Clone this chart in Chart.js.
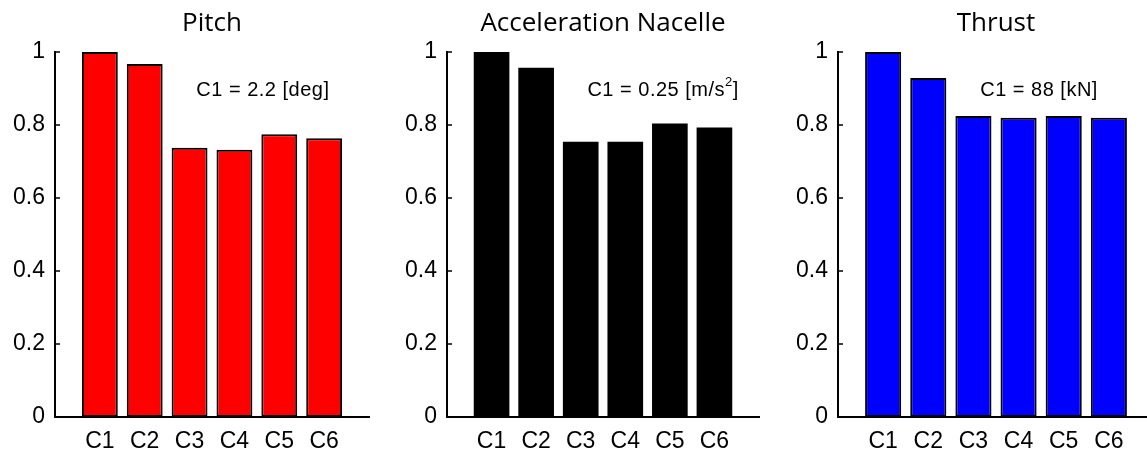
<!DOCTYPE html>
<html>
<head>
<meta charset="utf-8">
<script src="https://cdn.jsdelivr.net/npm/chart.js@4.4.1/dist/chart.umd.min.js"></script>
<style>
  html, body { margin: 0; padding: 0; background: #fff; overflow: hidden; width: 1147px; height: 455px; }
  .panel { position: absolute; top: 0; height: 455px; }
  canvas { display: block; }
</style>
</head>
<body>
<div class="panel" style="left:0px"><canvas id="c0" width="380" height="455"></canvas></div>
<div class="panel" style="left:380px"><canvas id="c1" width="390" height="455"></canvas></div>
<div class="panel" style="left:770px"><canvas id="c2" width="395" height="455"></canvas></div>
<script>
// Normalised responses per controller (C1 = 1)
const categories = ['C1', 'C2', 'C3', 'C4', 'C5', 'C6'];
const pitchValues = [1.0, 0.967, 0.738, 0.732, 0.775, 0.764];
const accelValues = [1.0, 0.957, 0.754, 0.754, 0.804, 0.793];
const thrustValues = [1.0, 0.929, 0.825, 0.820, 0.825, 0.820];
const yTickValues = [0, 0.2, 0.4, 0.6, 0.8, 1];
const panelTitles = ['Pitch', 'Acceleration Nacelle', 'Thrust'];
const referenceNotes = [
  { text: 'C1 = 2.2 [deg]' },
  { text: 'C1 = 0.25 [m/s', sup: '2', tail: ']' },
  { text: 'C1 = 88 [kN]' }
];

const TICK_FONT = '"Liberation Sans", Arial, sans-serif';

// Short tick marks drawn on the inside of the y axis
const inwardTicks = {
  id: 'inwardTicks',
  afterDraw(chart) {
    const { ctx, chartArea, scales } = chart;
    const y = scales.y;
    ctx.save();
    ctx.strokeStyle = '#000';
    ctx.lineWidth = 1.5;
    yTickValues.forEach(v => {
      const py = y.getPixelForValue(v);
      ctx.beginPath();
      ctx.moveTo(chartArea.left, py);
      ctx.lineTo(chartArea.left + 5, py);
      ctx.stroke();
    });
    ctx.restore();
  }
};

// Text note giving the absolute value of the C1 reference
const noteLabel = {
  id: 'noteLabel',
  afterDraw(chart, args, opts) {
    const note = opts.note;
    if (!note) return;
    const { ctx, scales } = chart;
    const px = scales.x.getPixelForValue(opts.x);
    const py = scales.y.getPixelForValue(opts.y);
    ctx.save();
    ctx.fillStyle = '#000';
    ctx.textBaseline = 'middle';
    ctx.textAlign = 'left';
    ctx.font = '20px ' + TICK_FONT;
    ctx.letterSpacing = '0.5px';
    ctx.fillText(note.text, px, py);
    if (note.sup) {
      const w = ctx.measureText(note.text).width;
      ctx.font = '13px ' + TICK_FONT;
      ctx.fillText(note.sup, px + w, py - 8);
      const ws = ctx.measureText(note.sup).width;
      ctx.font = '20px ' + TICK_FONT;
      ctx.fillText(note.tail, px + w + ws, py);
    }
    ctx.restore();
  }
};

const panels = [
  { id: 'c0', values: pitchValues, color: '#ff0000', borderWidth: 2, yAxisWidth: 55, padRight: 7 },
  { id: 'c1', values: accelValues, color: '#000000', borderWidth: 0, yAxisWidth: 67, padRight: 5 },
  { id: 'c2', values: thrustValues, color: '#0000ff', borderWidth: 2, yAxisWidth: 68, padRight: 8 }
];

panels.forEach((p, i) => {
  const labels = [''].concat(categories, ['']);
  const data = [null].concat(p.values, [null]);
  new Chart(document.getElementById(p.id), {
    type: 'bar',
    data: {
      labels: labels,
      datasets: [{
        data: data,
        backgroundColor: p.color,
        borderColor: '#000',
        borderWidth: p.borderWidth,
        borderSkipped: false,
        categoryPercentage: 1.0,
        barPercentage: 0.8
      }]
    },
    options: {
      responsive: false,
      animation: false,
      events: [],
      layout: { padding: { left: 0, right: p.padRight, top: 0, bottom: 0 } },
      plugins: {
        legend: { display: false },
        tooltip: { enabled: false },
        title: {
          display: true,
          text: panelTitles[i],
          fullSize: false,
          color: '#000',
          font: { family: '"Open Sans", sans-serif', size: 26, weight: 'normal', lineHeight: 1.2 },
          padding: { top: 8, bottom: 12.8 }
        },
        noteLabel: { note: referenceNotes[i], x: 3.15, y: 0.895 }
      },
      scales: {
        x: {
          type: 'category',
          offset: false,
          grid: { display: false, drawTicks: false },
          border: { display: true, color: '#000', width: 2 },
          ticks: {
            color: '#000',
            autoSkip: false,
            maxRotation: 0,
            padding: 11,
            font: { family: TICK_FONT, size: 23 }
          },
          afterFit(scale) { scale.height = 38; }
        },
        y: {
          min: 0,
          max: 1,
          afterBuildTicks(scale) { scale.ticks = yTickValues.map(v => ({ value: v })); },
          grid: { display: false, drawTicks: false },
          border: { display: true, color: '#000', width: 2 },
          ticks: {
            color: '#000',
            padding: 10,
            font: { family: TICK_FONT, size: 23 },
            callback: v => String(v)
          },
          afterFit(scale) { scale.width = p.yAxisWidth; }
        }
      }
    },
    plugins: [inwardTicks, noteLabel]
  });
});
</script>
</body>
</html>
